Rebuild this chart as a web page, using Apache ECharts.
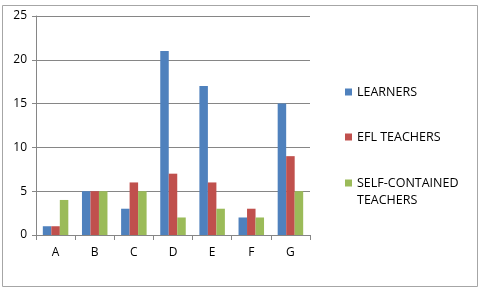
<!DOCTYPE html>
<html>
<head>
<meta charset="utf-8">
<script src="https://cdn.jsdelivr.net/npm/echarts@6/dist/echarts.min.js"></script>
<style>
  html, body { margin: 0; padding: 0; background: #fff; }
  #chart { width: 483px; height: 291px; }
</style>
</head>
<body>
<div id="chart"></div>
<script>
const categories = ["A", "B", "C", "D", "E", "F", "G"];
const learners = [1, 5, 3, 21, 17, 2, 15];
const eflTeachers = [1, 5, 6, 7, 6, 3, 9];
const selfContained = [4, 5, 5, 2, 3, 2, 5];
const yTicks = [0, 5, 10, 15, 20, 25];

const chart = echarts.init(document.getElementById("chart"));
const font = "'Open Sans', 'Liberation Sans', sans-serif";

// one legend per series so each can sit where Excel put it
const legendBase = (name, top, fmt) => ({
  data: [name],
  left: 345,
  top: top,
  padding: 0,
  orient: "vertical",
  itemWidth: 7,
  itemHeight: 7,
  icon: "rect",
  formatter: fmt,
  textStyle: { fontFamily: font, fontSize: 12.5, color: "#000", lineHeight: 18 },
});

chart.setOption({
  animation: false,
  graphic: [
    {
      type: "rect",
      shape: { x: 2.5, y: 5.5, width: 475, height: 281 },
      style: { fill: "none", stroke: "#a6a6a6", lineWidth: 1 },
    },
    // second line of the wrapped legend label (Excel keeps the square on line one)
    {
      type: "text",
      left: 357,
      top: 194,
      style: { text: "TEACHERS", font: "12.5px " + font, fill: "#000" },
    },
  ],
  grid: { left: 36, right: 173, top: 16, bottom: 56, containLabel: false },
  legend: [
    legendBase("LEARNERS", 83),
    legendBase("EFL TEACHERS", 128),
    legendBase("SELF-CONTAINED TEACHERS", 174, () => "SELF-CONTAINED"),
  ],
  xAxis: {
    type: "category",
    data: categories,
    axisLine: { lineStyle: { color: "#868686" } },
    axisTick: { show: true, length: 5, lineStyle: { color: "#868686" } },
    axisLabel: { color: "#000", fontFamily: font, fontSize: 12, margin: 12 },
  },
  yAxis: {
    type: "value",
    min: 0,
    max: 25,
    interval: 5,
    axisLine: { show: true, lineStyle: { color: "#868686" } },
    axisTick: { show: true, length: 4, lineStyle: { color: "#868686" } },
    axisLabel: { color: "#000", fontFamily: font, fontSize: 12, margin: 9 },
    splitLine: { lineStyle: { color: "#868686" } },
  },
  series: [
    { name: "LEARNERS", type: "bar", data: learners, barWidth: 8.5, barGap: "0%", itemStyle: { color: "#4F81BD" } },
    { name: "EFL TEACHERS", type: "bar", data: eflTeachers, barWidth: 8.5, barGap: "0%", itemStyle: { color: "#C0504D" } },
    { name: "SELF-CONTAINED TEACHERS", type: "bar", data: selfContained, barWidth: 8.5, barGap: "0%", itemStyle: { color: "#9BBB59" } },
  ],
});
</script>
</body>
</html>
